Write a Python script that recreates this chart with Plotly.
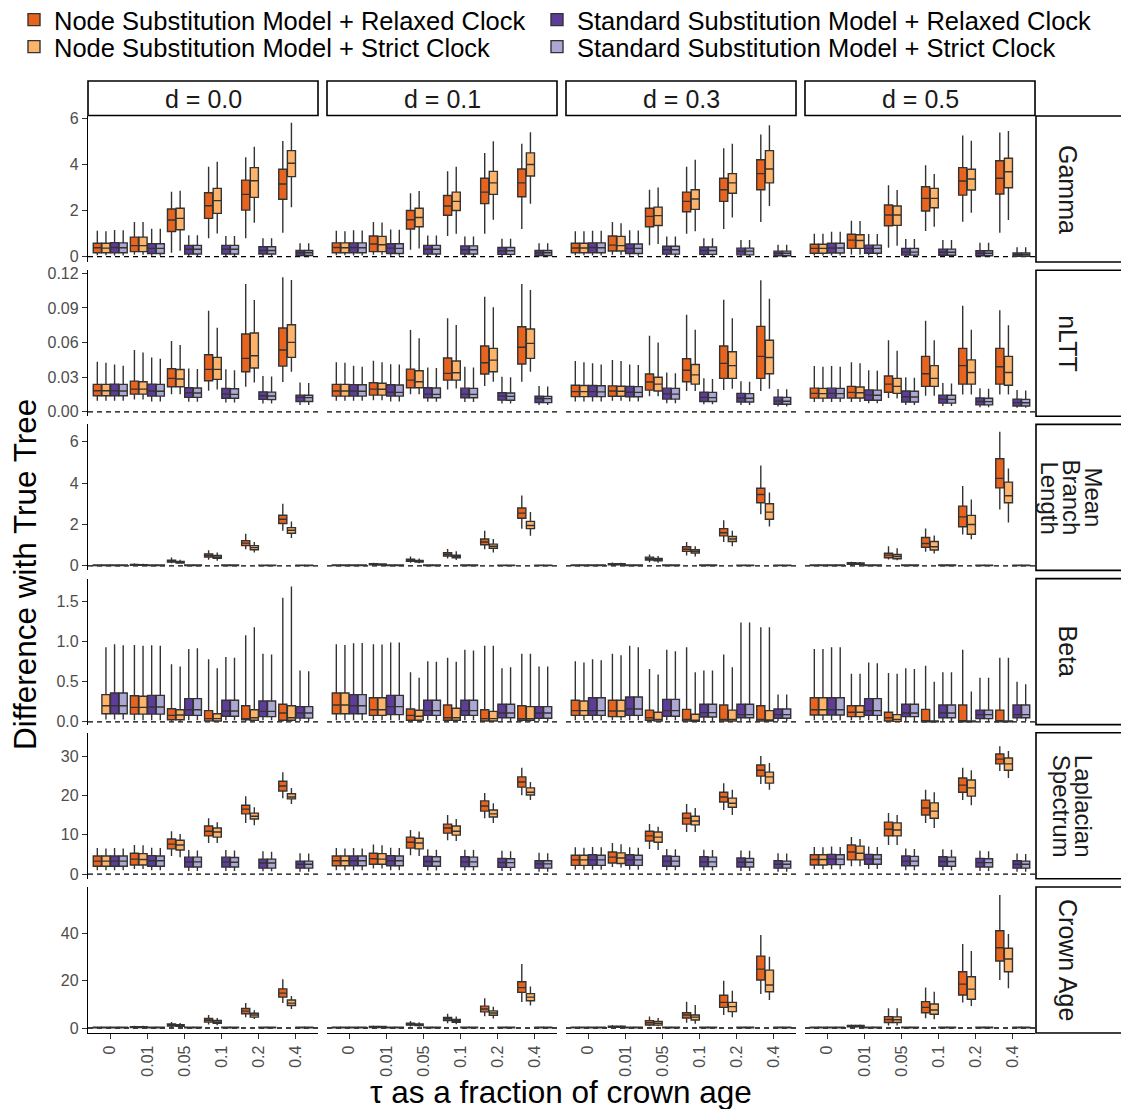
import plotly.graph_objects as go

# ---------------- categories / labels ----------------
TAU = ["0", "0.01", "0.05", "0.1", "0.2", "0.4"]
D_LABELS = ["d = 0.0", "d = 0.1", "d = 0.3", "d = 0.5"]
ROW_LABELS = [["Gamma"], ["nLTT"], ["Mean", "Branch", "Length"], ["Beta"], ["Laplacian", "Spectrum"], ["Crown Age"]]
MODELS = ["Node Substitution Model + Relaxed Clock",
          "Node Substitution Model + Strict Clock",
          "Standard Substitution Model + Relaxed Clock",
          "Standard Substitution Model + Strict Clock"]
COLORS = ["#E8641E", "#FDB46A", "#5E3C99", "#ADA7D3"]
LEGEND_ID = ["legend", "legend2", "legend3", "legend4"]

# each cell: (lower whisker, q1, median, q3, upper whisker); one list per d, six tau values each
# ---------------- Gamma ----------------
GAMMA_NR = [
    [(0.06,0.17,0.39,0.58,1.13),(0.08,0.22,0.48,0.85,1.50),(0.17,1.09,1.59,2.07,2.82),(0.80,1.66,2.21,2.77,3.90),(0.80,2.02,2.70,3.32,4.31),(1.04,2.49,3.15,3.79,5.02)],
    [(0.06,0.17,0.40,0.60,1.12),(0.08,0.22,0.55,0.90,1.50),(0.30,1.20,1.60,2.00,2.75),(0.90,1.80,2.20,2.65,3.70),(1.00,2.30,2.80,3.40,4.50),(1.20,2.60,3.20,3.80,4.90)],
    [(0.06,0.17,0.38,0.58,1.10),(0.08,0.25,0.50,0.90,1.50),(0.50,1.30,1.75,2.10,2.90),(1.00,1.95,2.40,2.80,3.90),(1.20,2.40,2.90,3.40,4.70),(1.50,2.90,3.60,4.20,5.30)],
    [(0.05,0.15,0.36,0.54,1.00),(0.10,0.36,0.72,0.97,1.56),(0.39,1.34,1.81,2.24,3.10),(1.11,1.98,2.53,3.03,3.97),(1.52,2.67,3.28,3.86,5.25),(1.04,2.72,3.40,4.16,5.39)],
]
GAMMA_NS = [
    [(0.06,0.17,0.37,0.58,1.10),(0.08,0.22,0.48,0.85,1.50),(0.26,1.17,1.66,2.10,2.86),(1.01,1.88,2.43,2.96,4.12),(1.47,2.57,3.29,3.86,4.77),(2.14,3.47,4.05,4.60,5.81)],
    [(0.06,0.17,0.39,0.60,1.10),(0.08,0.22,0.52,0.88,1.48),(0.35,1.30,1.70,2.10,2.85),(1.00,2.00,2.40,2.80,3.90),(1.60,2.70,3.20,3.70,5.00),(2.30,3.50,4.00,4.50,5.40)],
    [(0.06,0.17,0.38,0.58,1.10),(0.08,0.25,0.48,0.88,1.45),(0.55,1.35,1.78,2.15,3.00),(1.10,2.05,2.50,2.90,4.20),(1.70,2.75,3.20,3.60,4.90),(2.20,3.20,3.80,4.60,5.70)],
    [(0.05,0.15,0.36,0.54,1.00),(0.10,0.36,0.70,0.95,1.55),(0.47,1.36,1.81,2.20,2.89),(1.30,2.12,2.53,2.96,3.58),(1.91,2.89,3.37,3.79,5.03),(1.59,2.99,3.68,4.27,5.45)],
]
GAMMA_SR = [
    [(0.05,0.17,0.40,0.61,1.16),(0.04,0.14,0.36,0.56,1.21),(0.03,0.12,0.32,0.49,0.93),(0.03,0.12,0.32,0.49,0.90),(0.02,0.12,0.27,0.43,0.80),(0.01,0.05,0.17,0.27,0.58)],
    [(0.05,0.17,0.40,0.60,1.15),(0.04,0.14,0.37,0.56,1.18),(0.03,0.12,0.32,0.49,0.92),(0.03,0.12,0.30,0.47,0.88),(0.02,0.10,0.26,0.40,0.78),(0.01,0.05,0.17,0.27,0.58)],
    [(0.05,0.17,0.40,0.60,1.12),(0.04,0.14,0.36,0.55,1.15),(0.03,0.11,0.30,0.45,0.88),(0.02,0.10,0.27,0.42,0.80),(0.02,0.08,0.24,0.37,0.72),(0.01,0.04,0.15,0.24,0.52)],
    [(0.05,0.16,0.38,0.58,1.08),(0.05,0.15,0.36,0.50,0.98),(0.02,0.07,0.20,0.36,0.77),(0.02,0.06,0.19,0.33,0.72),(0.01,0.04,0.15,0.26,0.60),(0.01,0.02,0.09,0.16,0.41)],
]
GAMMA_SS = [
    [(0.05,0.17,0.39,0.60,1.15),(0.04,0.14,0.36,0.56,1.21),(0.03,0.12,0.32,0.49,0.93),(0.03,0.12,0.32,0.49,0.90),(0.02,0.12,0.27,0.43,0.80),(0.01,0.05,0.17,0.27,0.58)],
    [(0.05,0.17,0.39,0.60,1.14),(0.04,0.14,0.36,0.56,1.17),(0.03,0.12,0.32,0.49,0.92),(0.03,0.12,0.30,0.47,0.88),(0.02,0.10,0.26,0.40,0.78),(0.01,0.05,0.17,0.27,0.58)],
    [(0.05,0.17,0.39,0.60,1.12),(0.04,0.14,0.36,0.55,1.14),(0.03,0.11,0.30,0.45,0.88),(0.02,0.10,0.27,0.42,0.80),(0.02,0.08,0.24,0.37,0.72),(0.01,0.04,0.15,0.24,0.52)],
    [(0.05,0.16,0.38,0.58,1.08),(0.05,0.15,0.36,0.50,0.98),(0.02,0.07,0.20,0.36,0.77),(0.02,0.06,0.19,0.33,0.72),(0.01,0.04,0.15,0.26,0.60),(0.01,0.02,0.09,0.16,0.41)],
]

# ---------------- nLTT ----------------
NLTT_NR = [
    [(0.0095,0.0139,0.0182,0.0238,0.0434),(0.0107,0.0153,0.0197,0.0266,0.0535),(0.0153,0.0217,0.0290,0.0373,0.0613),(0.0182,0.0269,0.0368,0.0494,0.0876),(0.0217,0.0347,0.0463,0.0674,0.1108),(0.0258,0.0396,0.0535,0.0726,0.1166)],
    [(0.0095,0.0136,0.0180,0.0238,0.0430),(0.0100,0.0145,0.0197,0.0252,0.0442),(0.0153,0.0208,0.0275,0.0370,0.0709),(0.0194,0.0275,0.0333,0.0466,0.0810),(0.0223,0.0327,0.0425,0.0570,0.0997),(0.0260,0.0414,0.0559,0.0737,0.1108)],
    [(0.0090,0.0132,0.0175,0.0230,0.0440),(0.0095,0.0135,0.0180,0.0225,0.0450),(0.0135,0.0188,0.0258,0.0327,0.0660),(0.0180,0.0260,0.0360,0.0460,0.0840),(0.0190,0.0290,0.0420,0.0570,0.0970),(0.0180,0.0290,0.0480,0.0740,0.1140)],
    [(0.0085,0.0119,0.0160,0.0205,0.0396),(0.0085,0.0120,0.0168,0.0220,0.0430),(0.0120,0.0170,0.0240,0.0310,0.0620),(0.0140,0.0220,0.0330,0.0480,0.0790),(0.0150,0.0240,0.0400,0.0550,0.0920),(0.0150,0.0240,0.0390,0.0550,0.0880)],
]
NLTT_NS = [
    [(0.0095,0.0139,0.0182,0.0238,0.0425),(0.0107,0.0153,0.0197,0.0260,0.0515),(0.0153,0.0217,0.0284,0.0367,0.0578),(0.0194,0.0281,0.0368,0.0472,0.0729),(0.0255,0.0379,0.0486,0.0683,0.0969),(0.0347,0.0472,0.0602,0.0755,0.1142)],
    [(0.0095,0.0136,0.0180,0.0238,0.0425),(0.0100,0.0145,0.0195,0.0248,0.0430),(0.0153,0.0208,0.0261,0.0356,0.0637),(0.0203,0.0275,0.0339,0.0440,0.0752),(0.0260,0.0347,0.0448,0.0550,0.0905),(0.0347,0.0463,0.0593,0.0717,0.1056)],
    [(0.0090,0.0132,0.0175,0.0228,0.0430),(0.0095,0.0135,0.0178,0.0222,0.0440),(0.0135,0.0180,0.0240,0.0300,0.0600),(0.0180,0.0240,0.0320,0.0410,0.0710),(0.0200,0.0290,0.0400,0.0520,0.0810),(0.0200,0.0330,0.0470,0.0620,0.0980)],
    [(0.0085,0.0119,0.0158,0.0203,0.0390),(0.0085,0.0120,0.0165,0.0215,0.0420),(0.0115,0.0160,0.0220,0.0290,0.0530),(0.0140,0.0220,0.0290,0.0400,0.0620),(0.0150,0.0240,0.0340,0.0450,0.0710),(0.0150,0.0230,0.0340,0.0480,0.0750)],
]
NLTT_SR = [
    [(0.0095,0.0139,0.0182,0.0240,0.0410),(0.0090,0.0136,0.0180,0.0240,0.0470),(0.0088,0.0125,0.0165,0.0208,0.0376),(0.0080,0.0118,0.0153,0.0202,0.0368),(0.0072,0.0108,0.0139,0.0173,0.0310),(0.0060,0.0090,0.0125,0.0145,0.0255)],
    [(0.0095,0.0136,0.0180,0.0236,0.0400),(0.0090,0.0136,0.0170,0.0234,0.0412),(0.0088,0.0122,0.0153,0.0208,0.0385),(0.0085,0.0122,0.0153,0.0205,0.0390),(0.0072,0.0101,0.0136,0.0165,0.0304),(0.0058,0.0081,0.0116,0.0136,0.0223)],
    [(0.0090,0.0132,0.0175,0.0228,0.0420),(0.0090,0.0130,0.0170,0.0220,0.0410),(0.0075,0.0110,0.0155,0.0205,0.0340),(0.0065,0.0090,0.0125,0.0170,0.0290),(0.0060,0.0085,0.0120,0.0160,0.0265),(0.0045,0.0066,0.0093,0.0127,0.0197)],
    [(0.0085,0.0119,0.0160,0.0205,0.0396),(0.0075,0.0100,0.0145,0.0190,0.0360),(0.0060,0.0085,0.0130,0.0180,0.0300),(0.0050,0.0075,0.0110,0.0145,0.0250),(0.0040,0.0060,0.0090,0.0120,0.0205),(0.0035,0.0050,0.0080,0.0110,0.0190)],
]
NLTT_SS = [
    [(0.0095,0.0139,0.0180,0.0238,0.0400),(0.0090,0.0136,0.0178,0.0238,0.0460),(0.0088,0.0125,0.0163,0.0206,0.0370),(0.0080,0.0118,0.0151,0.0200,0.0360),(0.0072,0.0106,0.0137,0.0171,0.0305),(0.0060,0.0090,0.0123,0.0143,0.0250)],
    [(0.0095,0.0136,0.0178,0.0234,0.0390),(0.0090,0.0136,0.0168,0.0232,0.0410),(0.0088,0.0122,0.0151,0.0206,0.0380),(0.0085,0.0122,0.0151,0.0203,0.0385),(0.0072,0.0100,0.0134,0.0163,0.0300),(0.0058,0.0080,0.0114,0.0134,0.0220)],
    [(0.0090,0.0132,0.0173,0.0226,0.0410),(0.0090,0.0130,0.0168,0.0218,0.0405),(0.0075,0.0110,0.0153,0.0203,0.0335),(0.0065,0.0090,0.0123,0.0168,0.0285),(0.0060,0.0085,0.0118,0.0158,0.0260),(0.0045,0.0066,0.0091,0.0125,0.0195)],
    [(0.0085,0.0119,0.0158,0.0203,0.0390),(0.0075,0.0100,0.0143,0.0188,0.0355),(0.0060,0.0085,0.0128,0.0178,0.0295),(0.0050,0.0075,0.0108,0.0143,0.0245),(0.0040,0.0060,0.0088,0.0118,0.0200),(0.0035,0.0050,0.0078,0.0108,0.0185)],
]

# ---------------- Mean Branch Length ----------------
MBL_NR = [
    [(0.0,0.01,0.02,0.04,0.08),(0.01,0.03,0.05,0.07,0.12),(0.12,0.18,0.22,0.27,0.40),(0.30,0.42,0.50,0.58,0.75),(0.80,0.98,1.10,1.22,1.55),(1.70,2.05,2.25,2.45,3.00)],
    [(0.0,0.01,0.02,0.04,0.08),(0.02,0.05,0.08,0.10,0.15),(0.15,0.22,0.27,0.32,0.45),(0.35,0.47,0.55,0.63,0.82),(0.80,1.02,1.15,1.30,1.70),(1.80,2.30,2.55,2.80,3.40)],
    [(0.0,0.01,0.02,0.04,0.08),(0.02,0.05,0.08,0.11,0.16),(0.18,0.28,0.35,0.42,0.55),(0.50,0.70,0.80,0.92,1.15),(1.15,1.45,1.60,1.80,2.20),(2.50,3.05,3.45,3.75,4.85)],
    [(0.0,0.01,0.02,0.04,0.08),(0.04,0.08,0.12,0.15,0.20),(0.31,0.39,0.52,0.61,0.95),(0.68,0.90,1.08,1.37,1.81),(1.52,1.89,2.37,2.89,3.86),(2.73,3.77,4.23,5.18,6.48)],
]
MBL_NS = [
    [(0.0,0.01,0.02,0.04,0.08),(0.01,0.03,0.04,0.06,0.10),(0.10,0.14,0.17,0.21,0.30),(0.25,0.36,0.42,0.50,0.65),(0.65,0.78,0.88,0.98,1.15),(1.35,1.58,1.72,1.85,2.15)],
    [(0.0,0.01,0.02,0.04,0.08),(0.02,0.04,0.07,0.09,0.13),(0.12,0.18,0.22,0.26,0.36),(0.28,0.39,0.45,0.52,0.70),(0.65,0.85,0.95,1.05,1.30),(1.45,1.80,1.95,2.15,2.60)],
    [(0.0,0.01,0.02,0.04,0.08),(0.02,0.05,0.07,0.10,0.15),(0.15,0.24,0.30,0.36,0.48),(0.45,0.62,0.70,0.78,0.95),(0.95,1.18,1.30,1.42,1.70),(1.90,2.25,2.60,3.00,3.55)],
    [(0.0,0.01,0.02,0.04,0.08),(0.04,0.08,0.11,0.14,0.19),(0.27,0.34,0.45,0.55,0.85),(0.60,0.77,0.92,1.18,1.47),(1.29,1.53,2.00,2.44,3.21),(2.10,3.05,3.39,4.05,4.71)],
]
MBL_SR = [
    [(0.0,0.01,0.02,0.04,0.08),(0.0,0.01,0.02,0.04,0.08),(0.0,0.01,0.02,0.04,0.07),(0.0,0.01,0.02,0.04,0.07),(0.0,0.01,0.02,0.03,0.06),(0.0,0.01,0.02,0.03,0.06)],
    [(0.0,0.01,0.02,0.04,0.08),(0.0,0.01,0.02,0.04,0.08),(0.0,0.01,0.02,0.04,0.07),(0.0,0.01,0.02,0.04,0.07),(0.0,0.01,0.02,0.03,0.06),(0.0,0.01,0.02,0.03,0.06)],
    [(0.0,0.01,0.02,0.04,0.08),(0.0,0.01,0.02,0.04,0.08),(0.0,0.01,0.02,0.04,0.07),(0.0,0.01,0.02,0.04,0.07),(0.0,0.01,0.02,0.03,0.06),(0.0,0.01,0.02,0.03,0.06)],
    [(0.0,0.01,0.02,0.04,0.08),(0.0,0.01,0.02,0.04,0.08),(0.0,0.01,0.02,0.04,0.07),(0.0,0.01,0.02,0.04,0.07),(0.0,0.01,0.02,0.03,0.06),(0.0,0.01,0.02,0.03,0.06)],
]
MBL_SS = [
    [(0.0,0.01,0.02,0.04,0.08),(0.0,0.01,0.02,0.04,0.08),(0.0,0.01,0.02,0.04,0.07),(0.0,0.01,0.02,0.04,0.07),(0.0,0.01,0.02,0.03,0.06),(0.0,0.01,0.02,0.03,0.06)],
    [(0.0,0.01,0.02,0.04,0.08),(0.0,0.01,0.02,0.04,0.08),(0.0,0.01,0.02,0.04,0.07),(0.0,0.01,0.02,0.04,0.07),(0.0,0.01,0.02,0.03,0.06),(0.0,0.01,0.02,0.03,0.06)],
    [(0.0,0.01,0.02,0.04,0.08),(0.0,0.01,0.02,0.04,0.08),(0.0,0.01,0.02,0.04,0.07),(0.0,0.01,0.02,0.04,0.07),(0.0,0.01,0.02,0.03,0.06),(0.0,0.01,0.02,0.03,0.06)],
    [(0.0,0.01,0.02,0.04,0.08),(0.0,0.01,0.02,0.04,0.08),(0.0,0.01,0.02,0.04,0.07),(0.0,0.01,0.02,0.04,0.07),(0.0,0.01,0.02,0.03,0.06),(0.0,0.01,0.02,0.03,0.06)],
]

# ---------------- Beta ----------------
BETA_NR = [
    [None,(0.02,0.096,0.18,0.325,0.96),(0.0,0.025,0.08,0.163,0.72),(0.0,0.012,0.04,0.14,0.78),(0.0,0.025,0.04,0.20,1.08),(0.0,0.02,0.11,0.22,1.55)],
    [(0.02,0.10,0.21,0.36,0.97),(0.02,0.08,0.15,0.30,0.97),(0.0,0.02,0.08,0.16,0.62),(0.0,0.02,0.05,0.21,0.80),(0.0,0.01,0.04,0.15,0.95),(0.0,0.02,0.04,0.20,0.85)],
    [(0.02,0.08,0.14,0.27,0.755),(0.02,0.065,0.135,0.27,0.85),(0.0,0.02,0.05,0.146,0.66),(0.0,0.01,0.03,0.155,0.93),(0.0,0.01,0.03,0.21,0.84),(0.0,0.01,0.03,0.20,1.18)],
    [(0.02,0.085,0.15,0.30,0.91),(0.02,0.065,0.12,0.20,0.60),(0.0,0.01,0.05,0.12,0.61),(0.0,0.0,0.01,0.155,0.70),(0.0,0.0,0.01,0.21,0.90),(0.0,0.0,0.01,0.146,0.80)],
]
BETA_NS = [
    [(0.03,0.10,0.20,0.34,0.93),(0.02,0.096,0.18,0.32,0.95),(0.0,0.025,0.085,0.15,0.69),(0.0,0.01,0.04,0.10,0.67),(0.0,0.02,0.05,0.15,1.18),(0.0,0.02,0.05,0.20,1.69)],
    [(0.02,0.10,0.21,0.36,0.96),(0.02,0.08,0.15,0.30,0.965),(0.0,0.02,0.07,0.145,0.55),(0.0,0.02,0.05,0.17,0.75),(0.0,0.01,0.04,0.13,0.95),(0.0,0.02,0.04,0.19,0.85)],
    [(0.02,0.08,0.14,0.26,0.74),(0.02,0.065,0.135,0.27,0.83),(0.0,0.01,0.03,0.12,0.59),(0.0,0.005,0.02,0.095,0.62),(0.0,0.01,0.03,0.146,0.68),(0.0,0.01,0.02,0.14,1.18)],
    [(0.02,0.085,0.15,0.30,0.91),(0.02,0.065,0.12,0.20,0.60),(0.0,0.005,0.03,0.09,0.60),(0.0,0.0,0.005,0.01,0.50),(0.0,0.0,0.005,0.01,0.38),(0.0,0.0,0.005,0.01,0.80)],
]
BETA_SR = [
    [(0.03,0.10,0.20,0.36,0.97),(0.02,0.096,0.185,0.33,0.955),(0.02,0.08,0.15,0.29,0.91),(0.02,0.07,0.135,0.27,0.81),(0.02,0.065,0.13,0.26,0.85),(0.01,0.046,0.11,0.19,0.64)],
    [(0.02,0.10,0.20,0.34,0.98),(0.02,0.09,0.19,0.33,0.99),(0.02,0.08,0.14,0.27,0.755),(0.02,0.08,0.14,0.27,0.90),(0.01,0.05,0.11,0.22,0.67),(0.01,0.045,0.11,0.19,0.69)],
    [(0.02,0.08,0.14,0.30,0.78),(0.02,0.08,0.16,0.31,0.95),(0.02,0.07,0.14,0.28,0.90),(0.01,0.06,0.115,0.22,0.64),(0.01,0.05,0.09,0.22,1.24),(0.01,0.045,0.09,0.16,0.34)],
    [(0.02,0.085,0.15,0.30,0.93),(0.02,0.08,0.14,0.29,0.74),(0.01,0.065,0.11,0.22,0.67),(0.01,0.05,0.11,0.21,0.62),(0.01,0.04,0.09,0.146,0.55),(0.01,0.05,0.09,0.21,0.50)],
]
BETA_SS = [
    [(0.03,0.10,0.20,0.36,0.955),(0.02,0.096,0.185,0.33,0.95),(0.02,0.08,0.15,0.29,0.92),(0.02,0.07,0.135,0.27,0.80),(0.02,0.065,0.13,0.26,0.84),(0.01,0.046,0.11,0.19,0.63)],
    [(0.02,0.10,0.20,0.34,0.985),(0.02,0.09,0.19,0.33,0.99),(0.02,0.08,0.14,0.27,0.75),(0.02,0.08,0.14,0.27,0.89),(0.01,0.05,0.11,0.22,0.68),(0.01,0.045,0.11,0.19,0.69)],
    [(0.02,0.08,0.14,0.30,0.77),(0.02,0.08,0.16,0.31,0.93),(0.02,0.07,0.14,0.28,0.88),(0.01,0.06,0.115,0.22,0.64),(0.01,0.05,0.09,0.22,1.24),(0.01,0.045,0.09,0.16,0.34)],
    [(0.02,0.085,0.15,0.30,0.93),(0.02,0.08,0.14,0.29,0.73),(0.01,0.065,0.11,0.22,0.66),(0.01,0.05,0.11,0.21,0.62),(0.01,0.04,0.09,0.146,0.55),(0.01,0.05,0.09,0.21,0.47)],
]

# ---------------- Laplacian Spectrum ----------------
LAP_NR = [
    [(1.0,2.0,3.3,4.6,6.6),(1.3,2.3,3.8,5.3,7.4),(4.6,6.4,7.6,8.9,10.9),(7.9,9.7,10.9,12.2,14.2),(13.0,15.3,16.5,17.5,19.8),(19.3,21.1,22.4,23.6,25.9)],
    [(1.0,2.1,3.4,4.6,6.6),(1.4,2.5,3.9,5.3,7.5),(4.8,6.6,8.1,9.4,11.2),(8.6,10.4,11.7,12.7,15.0),(14.2,16.0,17.3,18.6,20.6),(20.0,22.1,23.4,24.7,27.0)],
    [(1.1,2.2,3.6,4.8,6.8),(1.8,2.8,4.3,5.6,7.9),(6.4,8.4,9.7,10.9,12.7),(10.7,12.7,14.2,15.5,17.8),(16.3,18.3,19.6,20.8,23.1),(22.9,24.9,26.4,27.7,30.0)],
    [(1.2,2.3,3.7,4.9,6.9),(2.0,3.6,5.6,7.4,9.4),(7.4,9.7,11.4,13.2,15.5),(13.0,15.0,16.8,18.8,21.4),(18.8,20.8,22.6,24.4,27.0),(26.2,28.0,29.2,30.5,32.5)],
]
LAP_NS = [
    [(1.0,2.0,3.3,4.6,6.5),(1.3,2.3,3.7,5.2,7.3),(4.3,6.1,7.4,8.6,10.2),(7.9,9.4,10.7,11.7,13.2),(12.4,14.0,14.7,15.5,17.0),(17.8,19.1,19.6,20.4,21.9)],
    [(1.0,2.1,3.4,4.6,6.5),(1.4,2.5,3.8,5.2,7.3),(4.6,6.4,7.9,9.1,10.8),(8.4,9.9,10.9,12.2,14.0),(13.0,14.5,15.3,16.3,18.0),(18.8,20.1,20.8,21.9,23.4)],
    [(1.1,2.2,3.6,4.8,6.7),(1.7,2.7,4.1,5.4,7.6),(6.1,8.1,9.4,10.7,12.0),(10.7,12.5,13.5,14.7,16.8),(15.0,17.0,18.0,19.3,21.4),(21.4,23.1,24.7,25.9,28.2)],
    [(1.2,2.3,3.7,4.9,6.8),(2.0,3.6,5.3,7.1,8.9),(7.4,9.7,11.2,13.0,15.0),(11.7,14.2,16.0,18.1,20.8),(17.5,19.8,21.9,23.9,26.4),(24.4,26.4,28.0,29.5,31.3)],
]
LAP_SR = [
    [(1.0,2.0,3.3,4.6,6.6),(1.0,2.0,3.4,4.7,6.7),(0.8,1.8,3.1,4.3,6.1),(0.8,1.8,3.1,4.3,6.1),(0.7,1.5,2.8,3.8,5.8),(0.6,1.5,2.5,3.3,5.3)],
    [(1.0,2.1,3.4,4.6,6.6),(1.0,2.1,3.4,4.7,6.7),(0.9,2.0,3.2,4.5,6.3),(0.9,1.9,3.1,4.4,6.2),(0.8,1.7,2.9,4.0,5.9),(0.6,1.5,2.6,3.4,5.4)],
    [(1.1,2.2,3.6,4.9,6.9),(1.1,2.2,3.6,4.9,6.8),(1.0,2.0,3.3,4.6,6.4),(0.9,1.9,3.1,4.4,6.2),(0.8,1.8,3.0,4.1,6.0),(0.6,1.5,2.5,3.4,5.3)],
    [(1.2,2.4,3.8,5.0,7.0),(1.3,2.5,3.8,5.0,7.0),(1.0,2.1,3.3,4.6,6.5),(0.9,2.0,3.2,4.4,6.3),(0.8,1.8,2.9,4.0,5.9),(0.6,1.5,2.5,3.4,5.2)],
]
LAP_SS = [
    [(1.0,2.0,3.3,4.6,6.5),(1.0,2.0,3.4,4.6,6.6),(0.8,1.8,3.1,4.3,6.0),(0.8,1.8,3.0,4.2,6.0),(0.7,1.5,2.8,3.8,5.7),(0.6,1.5,2.5,3.3,5.2)],
    [(1.0,2.1,3.4,4.6,6.5),(1.0,2.1,3.4,4.6,6.6),(0.9,2.0,3.2,4.4,6.2),(0.9,1.9,3.1,4.3,6.1),(0.8,1.7,2.9,3.9,5.8),(0.6,1.5,2.6,3.4,5.3)],
    [(1.1,2.2,3.6,4.8,6.8),(1.1,2.2,3.6,4.8,6.7),(1.0,2.0,3.3,4.5,6.3),(0.9,1.9,3.1,4.3,6.1),(0.8,1.8,3.0,4.0,5.9),(0.6,1.5,2.5,3.3,5.2)],
    [(1.2,2.4,3.8,4.9,6.9),(1.3,2.5,3.8,4.9,6.9),(1.0,2.1,3.3,4.5,6.4),(0.9,2.0,3.2,4.3,6.2),(0.8,1.8,2.9,3.9,5.8),(0.6,1.5,2.5,3.3,5.1)],
]

# ---------------- Crown Age ----------------
CROWN_NR = [
    [(0.0,0.1,0.2,0.35,0.6),(0.05,0.2,0.4,0.6,1.0),(0.4,0.8,1.2,1.7,2.5),(1.5,2.5,3.3,4.0,5.5),(4.5,6.0,7.1,8.2,10.5),(10.5,13.0,14.7,16.5,20.5)],
    [(0.0,0.1,0.2,0.35,0.6),(0.05,0.2,0.45,0.7,1.1),(0.6,1.2,1.6,2.0,3.0),(2.0,3.1,3.8,4.4,6.0),(5.0,6.8,8.0,9.2,12.5),(11.0,15.0,17.0,19.5,27.0)],
    [(0.0,0.1,0.2,0.35,0.6),(0.1,0.3,0.5,0.8,1.3),(0.7,1.3,2.2,3.1,4.8),(2.2,4.2,5.5,6.4,11.1),(5.5,8.7,10.8,13.8,19.9),(14.3,20.2,24.8,30.3,39.2)],
    [(0.0,0.1,0.2,0.35,0.6),(0.3,0.5,0.8,1.1,1.5),(1.1,2.3,3.6,4.8,8.3),(4.1,6.4,8.7,11.1,17.1),(10.7,13.9,18.5,23.7,35.4),(20.2,28.2,33.8,41.0,56.0)],
]
CROWN_NS = [
    [(0.0,0.1,0.2,0.35,0.6),(0.05,0.2,0.4,0.6,1.0),(0.3,0.7,1.0,1.4,2.1),(1.2,2.0,2.6,3.2,4.2),(3.8,4.6,5.5,6.2,7.5),(8.0,9.5,10.5,11.8,13.5)],
    [(0.0,0.1,0.2,0.35,0.6),(0.05,0.2,0.4,0.65,1.0),(0.5,1.0,1.3,1.7,2.4),(1.6,2.4,3.0,3.6,4.8),(4.0,5.4,6.3,7.2,9.0),(9.5,11.5,13.0,14.5,17.5)],
    [(0.0,0.1,0.2,0.35,0.6),(0.1,0.3,0.5,0.8,1.2),(0.7,1.2,2.0,2.8,4.2),(1.8,3.4,4.6,5.5,9.7),(4.5,6.9,9.0,10.8,15.7),(11.8,15.3,18.1,24.4,30.0)],
    [(0.0,0.1,0.2,0.35,0.6),(0.3,0.5,0.8,1.1,1.5),(1.1,2.3,3.5,4.7,8.3),(3.7,5.8,7.6,10.1,15.3),(9.3,12.1,16.4,21.6,32.4),(16.7,23.7,29.1,33.6,39.6)],
]
CROWN_SR = [
    [(0.0,0.1,0.2,0.35,0.6),(0.0,0.1,0.2,0.35,0.6),(0.0,0.1,0.2,0.33,0.6),(0.0,0.1,0.2,0.33,0.55),(0.0,0.1,0.2,0.3,0.55),(0.0,0.1,0.2,0.3,0.5)],
    [(0.0,0.1,0.2,0.35,0.6),(0.0,0.1,0.2,0.35,0.6),(0.0,0.1,0.2,0.33,0.6),(0.0,0.1,0.2,0.33,0.55),(0.0,0.1,0.2,0.3,0.55),(0.0,0.1,0.2,0.3,0.5)],
    [(0.0,0.1,0.2,0.35,0.6),(0.0,0.1,0.2,0.35,0.6),(0.0,0.1,0.2,0.33,0.6),(0.0,0.1,0.2,0.33,0.55),(0.0,0.1,0.2,0.3,0.55),(0.0,0.1,0.2,0.3,0.5)],
    [(0.0,0.1,0.2,0.35,0.6),(0.0,0.1,0.2,0.35,0.6),(0.0,0.1,0.2,0.33,0.6),(0.0,0.1,0.2,0.33,0.55),(0.0,0.1,0.2,0.3,0.55),(0.0,0.1,0.2,0.3,0.5)],
]
CROWN_SS = [
    [(0.0,0.1,0.2,0.35,0.6),(0.0,0.1,0.2,0.35,0.6),(0.0,0.1,0.2,0.33,0.6),(0.0,0.1,0.2,0.33,0.55),(0.0,0.1,0.2,0.3,0.55),(0.0,0.1,0.2,0.3,0.5)],
    [(0.0,0.1,0.2,0.35,0.6),(0.0,0.1,0.2,0.35,0.6),(0.0,0.1,0.2,0.33,0.6),(0.0,0.1,0.2,0.33,0.55),(0.0,0.1,0.2,0.3,0.55),(0.0,0.1,0.2,0.3,0.5)],
    [(0.0,0.1,0.2,0.35,0.6),(0.0,0.1,0.2,0.35,0.6),(0.0,0.1,0.2,0.33,0.6),(0.0,0.1,0.2,0.33,0.55),(0.0,0.1,0.2,0.3,0.55),(0.0,0.1,0.2,0.3,0.5)],
    [(0.0,0.1,0.2,0.35,0.6),(0.0,0.1,0.2,0.35,0.6),(0.0,0.1,0.2,0.33,0.6),(0.0,0.1,0.2,0.33,0.55),(0.0,0.1,0.2,0.3,0.55),(0.0,0.1,0.2,0.3,0.5)],
]

ROWS = [
    [GAMMA_NR, GAMMA_NS, GAMMA_SR, GAMMA_SS],
    [NLTT_NR, NLTT_NS, NLTT_SR, NLTT_SS],
    [MBL_NR, MBL_NS, MBL_SR, MBL_SS],
    [BETA_NR, BETA_NS, BETA_SR, BETA_SS],
    [LAP_NR, LAP_NS, LAP_SR, LAP_SS],
    [CROWN_NR, CROWN_NS, CROWN_SR, CROWN_SS],
]
Y_RANGES = [[-0.23, 6.10], [-0.0038, 0.1227], [-0.22, 6.84], [-0.035, 1.789], [-1.2, 35.9], [-2.1, 59.4]]
Y_TICKVALS = [[0, 2, 4, 6], [0, 0.03, 0.06, 0.09, 0.12], [0, 2, 4, 6], [0, 0.5, 1.0, 1.5], [0, 10, 20, 30], [0, 20, 40]]
Y_TICKTEXT = [["0", "2", "4", "6"], ["0.00", "0.03", "0.06", "0.09", "0.12"], ["0", "2", "4", "6"],
              ["0.0", "0.5", "1.0", "1.5"], ["0", "10", "20", "30"], ["0", "20", "40"]]

# ---------------- layout geometry (pixels) ----------------
W, H = 1121, 1109
COL_PX = [(88, 318), (327, 557), (566, 796), (805, 1035)]
ROW_TOP0, ROW_STEP, ROW_H = 116.0, 154.2, 146.0
LEGEND_POS = [(14, 20), (14, 47), (537, 20), (537, 47)]
FONT = "Liberation Sans, Arial, Helvetica, sans-serif"
TICK_COLOR = "#4d4d4d"

def px_x(p):
    return p / W

def px_y(p):
    return 1 - p / H

fig = go.Figure()
layout = dict(width=W, height=H, margin=dict(l=0, r=0, t=0, b=0, pad=0, autoexpand=False),
              paper_bgcolor="white", plot_bgcolor="white",
              boxmode="group", boxgap=0.07, boxgroupgap=0.06,
              font=dict(family=FONT, color="black"), showlegend=True)
shapes, annotations = [], []

for r in range(6):
    top = ROW_TOP0 + r * ROW_STEP
    bot = top + ROW_H
    for c in range(4):
        idx = r * 4 + c + 1
        xname = "x" if idx == 1 else f"x{idx}"
        yname = "y" if idx == 1 else f"y{idx}"
        xkey = "xaxis" if idx == 1 else f"xaxis{idx}"
        ykey = "yaxis" if idx == 1 else f"yaxis{idx}"
        for m in range(4):
            cells = ROWS[r][m][c]
            xs, lo, q1, med, q3, hi = [], [], [], [], [], []
            for t, cell in zip(TAU, cells):
                if cell is None:
                    continue
                xs.append(t); lo.append(cell[0]); q1.append(cell[1])
                med.append(cell[2]); q3.append(cell[3]); hi.append(cell[4])
            fig.add_trace(go.Box(
                x=xs, lowerfence=lo, q1=q1, median=med, q3=q3, upperfence=hi,
                name=MODELS[m], legendgroup=MODELS[m], legend=LEGEND_ID[m],
                showlegend=(idx == 1), fillcolor=COLORS[m],
                offsetgroup=f"m{m}", alignmentgroup=f"p{idx}",
                line=dict(color="#333333", width=1.4), whiskerwidth=0,
                boxpoints=False, xaxis=xname, yaxis=yname))
        bottom_row = (r == 5)
        layout[xkey] = dict(
            domain=[px_x(COL_PX[c][0]), px_x(COL_PX[c][1])], anchor=yname,
            type="category", categoryorder="array", categoryarray=TAU,
            range=[-0.6, 5.6], showgrid=False, zeroline=False,
            showline=bottom_row, linecolor="black", linewidth=1.3,
            ticks="outside" if bottom_row else "", ticklen=5, tickwidth=1.1, tickcolor="#333333",
            showticklabels=bottom_row, tickangle=-90,
            tickfont=dict(size=16, color=TICK_COLOR, family=FONT))
        left_col = (c == 0)
        layout[ykey] = dict(
            domain=[px_y(bot), px_y(top)], anchor=xname,
            range=Y_RANGES[r], showgrid=False, zeroline=False,
            showline=left_col, linecolor="black", linewidth=1.3,
            ticks="outside" if left_col else "", ticklen=5, tickwidth=1.1, tickcolor="#333333",
            showticklabels=left_col, tickmode="array",
            tickvals=Y_TICKVALS[r], ticktext=Y_TICKTEXT[r],
            tickfont=dict(size=16, color=TICK_COLOR, family=FONT))
        shapes.append(dict(type="line", xref=f"{xname} domain", yref=yname,
                           x0=0, x1=1, y0=0, y1=0, layer="below",
                           line=dict(color="black", width=1.3, dash="5px,4px")))
    # right strip
    shapes.append(dict(type="rect", xref="paper", yref="paper",
                       x0=px_x(1036), x1=px_x(1140), y0=px_y(bot), y1=px_y(top),
                       fillcolor="white", line=dict(color="black", width=1.6)))
    lines = ROW_LABELS[r]
    n = len(lines)
    center = 1068 if n == 1 else 1072
    for k, txt in enumerate(lines):
        xc = center + (n - 1) * 11 - k * 22
        annotations.append(dict(xref="paper", yref="paper", x=px_x(xc), y=px_y((top + bot) / 2),
                                xanchor="center", yanchor="middle",
                                text=txt, textangle=90, showarrow=False,
                                font=dict(size=25 if n == 1 else 24, color="#1a1a1a", family=FONT)))

for c in range(4):
    shapes.append(dict(type="rect", xref="paper", yref="paper",
                       x0=px_x(COL_PX[c][0]), x1=px_x(COL_PX[c][1]),
                       y0=px_y(115.5), y1=px_y(81), fillcolor="white",
                       line=dict(color="black", width=1.6)))
    annotations.append(dict(xref="paper", yref="paper",
                            x=px_x((COL_PX[c][0] + COL_PX[c][1]) / 2), y=px_y(98.5),
                            xanchor="center", yanchor="middle",
                            text=D_LABELS[c], showarrow=False,
                            font=dict(size=25, color="#1a1a1a", family=FONT)))

annotations.append(dict(xref="paper", yref="paper", x=px_x(25), y=px_y(575),
                        xanchor="center", yanchor="middle",
                        text="Difference with True Tree", textangle=-90, showarrow=False,
                        font=dict(size=31.5, color="black", family=FONT)))
annotations.append(dict(xref="paper", yref="paper", x=px_x(561), y=px_y(1092),
                        xanchor="center", yanchor="middle",
                        text="τ as a fraction of crown age", showarrow=False,
                        font=dict(size=31.5, color="black", family=FONT)))

layout["shapes"] = shapes
layout["annotations"] = annotations
for m in range(4):
    lx, ly = LEGEND_POS[m]
    layout[LEGEND_ID[m]] = dict(orientation="h", x=px_x(lx), y=px_y(ly),
                                xanchor="left", yanchor="middle", itemwidth=30,
                                tracegroupgap=0, bgcolor="rgba(0,0,0,0)",
                                font=dict(size=25.5, color="black", family=FONT))
fig.update_layout(**layout)
fig.write_html("out.html", config={"displayModeBar": False},
               post_script="document.body.style.margin='0';")
